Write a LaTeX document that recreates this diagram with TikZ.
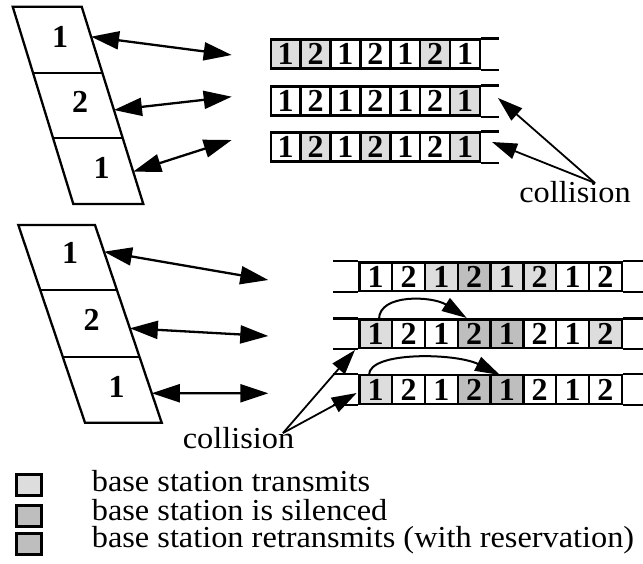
\documentclass[tikz,border=0pt]{standalone}
\usepackage{fontspec}
\setmainfont{Liberation Serif}[FakeStretch=1.06]
\newfontfamily\cellfont{Liberation Serif}
\usetikzlibrary{arrows.meta,calc}

\definecolor{txgray}{HTML}{DDDDDD}
\definecolor{slgray}{HTML}{BEBEBE}

\tikzset{
  cellA/.style={draw, line width=2.4pt, minimum width=29.9pt, minimum height=29pt,
    inner sep=0pt, font=\cellfont\bfseries\fontsize{32}{32}\selectfont},
  cellB/.style={cellA, minimum width=32.8pt, minimum height=28.5pt},
  slot/.style={draw, line width=2.3pt},
  bigarrow/.style={line width=2.3pt,
    {Triangle[length=28pt,width=18pt]}-{Triangle[length=28pt,width=18pt]}},
  ptr/.style={line width=1.8pt, -{Triangle[length=25pt,width=16pt]}},
  hop/.style={line width=2pt, -{Triangle[length=25pt,width=15pt]}},
  digit/.style={inner sep=0pt, font=\cellfont\bfseries\fontsize{32}{32}\selectfont},
  note/.style={inner sep=0pt, font=\fontsize{30.5}{31}\selectfont},
  legendbox/.style={draw, line width=2.8pt, minimum width=25pt, minimum height=21pt, inner sep=0pt},
}

\begin{document}
\begin{tikzpicture}[x=1pt,y=-1pt]
\useasboundingbox (0,0) rectangle (643,563);

% ---------- upper scheme: cell strip ----------
\coordinate (pTL) at (12.7,6.7);
\coordinate (pTR) at (81.7,6.7);
\coordinate (pBR) at (143.3,204);
\coordinate (pBL) at (73.3,204);
\draw[slot] (pTL) -- (pTR) -- (pBR) -- (pBL) -- cycle;
\draw[slot] ($(pTL)!0.3376!(pBL)$) -- ($(pTR)!0.3376!(pBR)$);
\draw[slot] ($(pTL)!0.664!(pBL)$) -- ($(pTR)!0.664!(pBR)$);
\node[digit] (pL1) at (60,36.7) {1};
\node[digit] (pL2) at (80,101.7) {2};
\node[digit] (pL3) at (101.7,168.3) {1};
\coordinate (pA1) at ($(pTR)!0.152!(pBR)$);
\coordinate (pA2) at ($(pTR)!0.5236!(pBR)$);
\coordinate (pA3) at ($(pTR)!0.836!(pBR)$);

% upper slot rows
\foreach \i/\d/\f in {1/1/txgray,2/2/txgray,3/1/white,4/2/white,5/1/white,6/2/txgray,7/1/white}
  \node[cellA, fill=\f] (t1c\i) at ({270.7+(\i-0.5)*29.9},54) {\d};
\foreach \i/\d/\f in {1/1/white,2/2/white,3/1/white,4/2/white,5/1/white,6/2/white,7/1/txgray}
  \node[cellA, fill=\f] (t2c\i) at ({270.7+(\i-0.5)*29.9},101) {\d};
\foreach \i/\d/\f in {1/1/white,2/2/txgray,3/1/white,4/2/txgray,5/1/white,6/2/white,7/1/txgray}
  \node[cellA, fill=\f] (t3c\i) at ({270.7+(\i-0.5)*29.9},147) {\d};
\foreach \r in {1,2,3}{
  \draw[line width=2.4pt] (t\r c7.north east) -- ++(18,0);
  \draw[line width=2.4pt] (t\r c7.south east) -- ++(18,0);
}

\coordinate (tE1) at (231.7,55);
\coordinate (tE2) at (231.7,96.7);
\coordinate (tE3) at (231.7,140);
\draw[bigarrow] (pA1) -- (tE1);
\draw[bigarrow] (pA2) -- (tE2);
\draw[bigarrow] (pA3) -- (tE3);

\node[note, anchor=base] (colTop) at (575,202.3) {collision};
\coordinate (cT) at (595,183);
\coordinate (cT1) at (498,98);
\coordinate (cT2) at (492,142);
\draw[ptr] (cT) -- (cT1);
\draw[ptr] (cT) -- (cT2);

% ---------- lower scheme: with reservation ----------
\coordinate (qTL) at (18.3,225);
\coordinate (qTR) at (95,225);
\coordinate (qBR) at (161.7,422.7);
\coordinate (qBL) at (85,422.7);
\draw[slot] (qTL) -- (qTR) -- (qBR) -- (qBL) -- cycle;
\draw[slot] ($(qTL)!0.3288!(qBL)$) -- ($(qTR)!0.3288!(qBR)$);
\draw[slot] ($(qTL)!0.666!(qBL)$) -- ($(qTR)!0.666!(qBR)$);
\node[digit] (qL1) at (70,253.3) {1};
\node[digit] (qL2) at (91.7,320) {2};
\node[digit] (qL3) at (116.7,386.7) {1};
\coordinate (qA1) at ($(qTR)!0.135!(qBR)$);
\coordinate (qA2) at ($(qTR)!0.5225!(qBR)$);
\coordinate (qA3) at ($(qTR)!0.851!(qBR)$);

\foreach \i/\d/\f in {1/1/white,2/2/white,3/1/txgray,4/2/slgray,5/1/txgray,6/2/txgray,7/1/white,8/2/white}
  \node[cellB, fill=\f] (b1c\i) at ({359.3+(\i-0.5)*32.8},276.7) {\d};
\foreach \i/\d/\f in {1/1/txgray,2/2/white,3/1/white,4/2/slgray,5/1/slgray,6/2/white,7/1/white,8/2/txgray}
  \node[cellB, fill=\f] (b2c\i) at ({359.3+(\i-0.5)*32.8},333.8) {\d};
\foreach \i/\d/\f in {1/1/txgray,2/2/white,3/1/white,4/2/slgray,5/1/slgray,6/2/white,7/1/white,8/2/white}
  \node[cellB, fill=\f] (b3c\i) at ({359.3+(\i-0.5)*32.8},389.5) {\d};
\foreach \r in {1,2,3}{
  \draw[line width=2.4pt] (b\r c1.north west) -- ++(-25.3,0);
  \draw[line width=2.4pt] (b\r c1.south west) -- ++(-25.3,0);
  \draw[line width=2.4pt] (b\r c8.north east) -- ++(25,0);
  \draw[line width=2.4pt] (b\r c8.south east) -- ++(25,0);
}

\coordinate (bE1) at (268.3,280);
\coordinate (bE2) at (268.3,336);
\coordinate (bE3) at (268.3,393.3);
\draw[bigarrow] (qA1) -- (bE1);
\draw[bigarrow] (qA2) -- (bE2);
\draw[bigarrow] (qA3) -- (bE3);

% reservation hops
\coordinate (h2s) at (379,319.3);
\coordinate (h2e) at (466.7,318);
\coordinate (h3s) at (369,375);
\coordinate (h3e) at (500,375);
\draw[hop] (h2s) .. controls +(0,-26) and +(-34,-22) .. (h2e);
\draw[hop] (h3s) .. controls +(0,-24) and +(-44,-22) .. (h3e);

\node[note, anchor=base] (colBot) at (238.5,448.3) {collision};
\coordinate (cB) at (283,433);
\coordinate (cB1) at (355,350);
\coordinate (cB2) at (356.7,393);
\draw[ptr] (cB) -- (cB1);
\draw[ptr] (cB) -- (cB2);

% ---------- legend ----------
\node[legendbox, fill=txgray] (k1) at (28.85,485.3) {};
\node[legendbox, fill=slgray] (k2) at (28.85,515.8) {};
\node[legendbox, fill=slgray] (k3) at (28.85,544) {};
\node[note, anchor=base west] (k1t) at (91.7,491.7) {base station transmits};
\node[note, anchor=base west] (k2t) at (91.7,520) {base station is silenced};
\node[note, anchor=base west] (k3t) at (91.7,547.7) {base station retransmits (with reservation)};
\end{tikzpicture}
\end{document}
